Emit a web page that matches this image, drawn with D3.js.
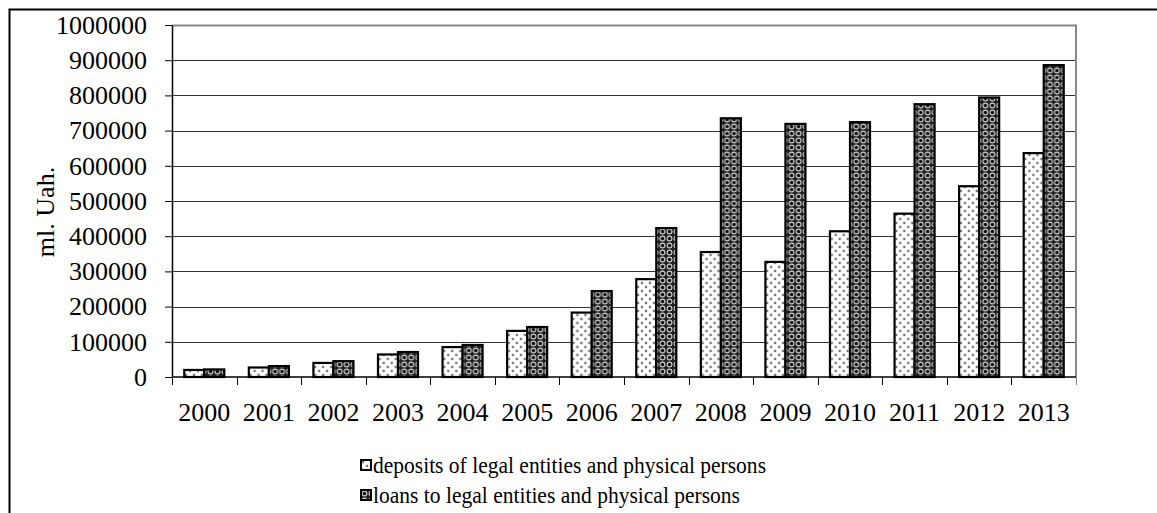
<!DOCTYPE html>
<html>
<head>
<meta charset="utf-8">
<script src="https://cdn.jsdelivr.net/npm/d3@7"></script>
<style>
  body { margin: 0; background: #fff; }
  svg text { font-family: "Liberation Serif", "Times New Roman", serif; fill: #000; }
</style>
</head>
<body>
<div id="chart"></div>
<script>
// data (ml. Uah.)
const years = ["2000", "2001", "2002", "2003", "2004", "2005", "2006",
               "2007", "2008", "2009", "2010", "2011", "2012", "2013"];
const deposits = [20000, 27000, 40000, 64000, 85000, 131000, 183000,
                  278000, 355000, 327000, 414000, 464000, 542000, 636000];
const loans = [21500, 31000, 45000, 71000, 91000, 142000, 244000,
               423000, 735000, 719000, 724000, 775000, 794000, 886000];
const seriesNames = ["deposits of legal entities and physical persons",
                     "loans to legal entities and physical persons"];
const yTicks = [0, 100000, 200000, 300000, 400000, 500000, 600000, 700000, 800000, 900000, 1000000];

const W = 1157, H = 513;
const margin = { top: 25, right: 81, bottom: 136, left: 172 };
const width = W - margin.left - margin.right;
const height = H - margin.top - margin.bottom;

const svg = d3.select("#chart").append("svg")
    .attr("width", W)
    .attr("height", H);

// patterns
const defs = svg.append("defs");
const pDep = defs.append("pattern")
    .attr("id", "pDep")
    .attr("patternUnits", "userSpaceOnUse")
    .attr("width", 8).attr("height", 8);
pDep.append("rect").attr("width", 8).attr("height", 8).attr("fill", "#fff");
[[2, 2], [6, 6]].forEach(function(p) {
    pDep.append("circle").attr("cx", p[0]).attr("cy", p[1]).attr("r", 1.4).attr("fill", "#aaa");
    pDep.append("circle").attr("cx", p[0]).attr("cy", p[1]).attr("r", 0.7).attr("fill", "#222");
});

const pLoan = defs.append("pattern")
    .attr("id", "pLoan")
    .attr("patternUnits", "userSpaceOnUse")
    .attr("width", 7).attr("height", 7);
pLoan.append("rect").attr("width", 7).attr("height", 7).attr("fill", "#222");
pLoan.append("circle").attr("cx", 3.5).attr("cy", 3.5).attr("r", 2.4).attr("fill", "none")
    .attr("stroke", "#ccc").attr("stroke-width", 1.1);
pLoan.append("circle").attr("cx", 3.5).attr("cy", 3.5).attr("r", 0.9).attr("fill", "#000");

const fills = ["url(#pDep)", "url(#pLoan)"];

// outer frame (runs off the right and bottom edges)
svg.append("path")
    .attr("d", `M9.5,${H + 5}V9.5H${W + 5}`)
    .attr("fill", "none")
    .attr("stroke", "#000")
    .attr("stroke-width", 2);

const g = svg.append("g")
    .attr("transform", `translate(${margin.left},${margin.top})`);

const x0 = d3.scaleBand().domain(years).range([0, width]).padding(0);
const bw = x0.bandwidth();
const x1 = d3.scaleBand().domain([0, 1]).range([bw * 0.19, bw * 0.81]).padding(0);
const y = d3.scaleLinear().domain([0, 1000000]).range([height, 0]);

// grid
g.append("g")
    .selectAll("line")
    .data(yTicks.slice(1, -1))
    .enter().append("line")
    .attr("x1", 0).attr("x2", width)
    .attr("y1", function(d) { return Math.round(y(d)) + 0.5; })
    .attr("y2", function(d) { return Math.round(y(d)) + 0.5; })
    .attr("stroke", "#333")
    .attr("stroke-width", 1);

// plot border top + right
g.append("path")
    .attr("d", `M0,0.5H${width}V${height}`)
    .attr("fill", "none")
    .attr("stroke", "#888")
    .attr("stroke-width", 2);

// bars
const rows = years.map(function(yr, i) { return { year: yr, values: [deposits[i], loans[i]] }; });
const grp = g.selectAll(".grp")
    .data(rows)
    .enter().append("g")
    .attr("class", "grp")
    .attr("transform", function(d) { return `translate(${x0(d.year)},0)`; });

grp.selectAll("rect")
    .data(function(d) { return d.values.map(function(v, k) { return { k: k, v: v }; }); })
    .enter().append("rect")
    .attr("x", function(d) { return x1(d.k); })
    .attr("width", x1.bandwidth())
    .attr("y", function(d) { return y(d.v); })
    .attr("height", function(d) { return height - y(d.v); })
    .attr("fill", function(d) { return fills[d.k]; })
    .attr("stroke", "#000")
    .attr("stroke-width", 2.2);

// y axis
const yAxis = g.append("g")
    .call(d3.axisLeft(y).tickValues(yTicks).tickFormat(d3.format("d"))
        .tickSize(7).tickSizeOuter(0).tickPadding(18));
yAxis.select(".domain").attr("stroke", "#000").attr("stroke-width", 1.5);
yAxis.selectAll(".tick line").attr("stroke", "#000");
yAxis.selectAll("text").attr("font-size", 26);

// x axis
const xAxisG = g.append("g").attr("transform", `translate(0,${height})`);
xAxisG.append("line")
    .attr("x1", 0).attr("x2", width)
    .attr("y1", 0).attr("y2", 0)
    .attr("stroke", "#000").attr("stroke-width", 1.5);
xAxisG.selectAll(".xt")
    .data(years.concat(["end"]))
    .enter().append("line")
    .attr("x1", function(d, i) { return Math.round(i * bw) + 0.5; })
    .attr("x2", function(d, i) { return Math.round(i * bw) + 0.5; })
    .attr("y1", 0).attr("y2", 8)
    .attr("stroke", function(d, i) { return i === years.length ? "#888" : "#000"; });
xAxisG.selectAll(".xl")
    .data(years)
    .enter().append("text")
    .attr("x", function(d) { return x0(d) + bw / 2; })
    .attr("y", 44)
    .attr("text-anchor", "middle")
    .attr("font-size", 26)
    .text(function(d) { return d; });

// y title
svg.append("text")
    .attr("transform", "translate(54,212) rotate(-90)")
    .attr("text-anchor", "middle")
    .attr("font-size", 26)
    .text("ml. Uah.");

// legend
const legendLen = [393, 367];
const legend = svg.append("g").attr("transform", "translate(361,460)");
seriesNames.forEach(function(name, i) {
    const row = legend.append("g").attr("transform", `translate(0,${i * 30})`);
    row.append("rect")
        .attr("x", 0).attr("y", 0)
        .attr("width", 10).attr("height", 10)
        .attr("fill", fills[i])
        .attr("stroke", "#000").attr("stroke-width", 2);
    row.append("text")
        .attr("x", 12).attr("y", 13)
        .attr("font-size", 24)
        .attr("textLength", legendLen[i])
        .attr("lengthAdjust", "spacingAndGlyphs")
        .text(name);
});
</script>
</body>
</html>
